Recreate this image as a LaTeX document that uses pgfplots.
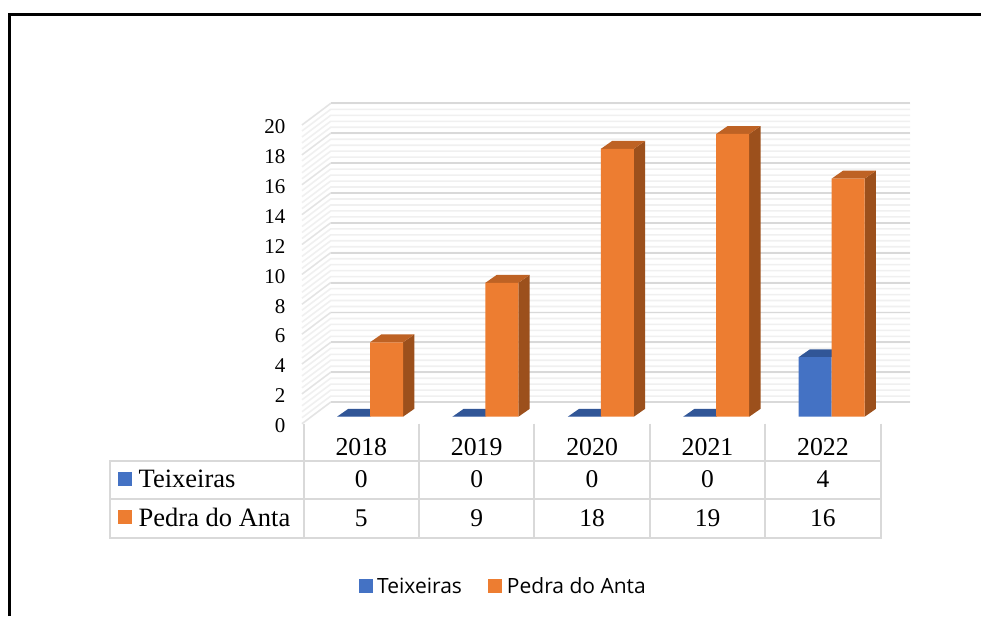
\documentclass[border=0pt]{standalone}
\usepackage{pgfplots}
\pgfplotsset{compat=1.18}
\usepackage{fontspec}
\setmainfont{Liberation Serif}
\newfontfamily\legendfont{Open Sans}

\definecolor{serA}{HTML}{4472C4}
\definecolor{serB}{HTML}{ED7D31}
\definecolor{serAtop}{HTML}{315697}
\definecolor{serBtop}{HTML}{BE6224}
\definecolor{serBside}{HTML}{9C501C}
\definecolor{gridmaj}{HTML}{D9D9D9}
\definecolor{gridmin}{HTML}{F0F0F0}

% bar geometry in data units: width, depth in x, depth in y
\def\bw{0.286}
\def\bd{0.098}
\def\bh{0.53}

% top face, #1 category, #2 value, #3 colour, #4 left edge
\newcommand{\topface}[4]{%
  \pgfmathsetmacro\xa{#1+#4}\pgfmathsetmacro\xb{\xa+\bw}%
  \pgfmathsetmacro\xc{\xb+\bd}\pgfmathsetmacro\xd{\xa+\bd}%
  \pgfmathsetmacro\yb{#2+\bh}%
  \edef\doit{\noexpand\addplot[forget plot,fill=#3,draw=none] coordinates {(\xa,#2)(\xb,#2)(\xc,\yb)(\xd,\yb)} --cycle;}\doit}
% right side face of the orange bars
\newcommand{\sideface}[2]{%
  \pgfmathsetmacro\xa{#1+\bw}\pgfmathsetmacro\xb{\xa+\bd}%
  \pgfmathsetmacro\yb{#2+\bh}%
  \edef\doit{\noexpand\addplot[forget plot,fill=serBside,draw=none] coordinates {(\xa,0)(\xb,\bh)(\xb,\yb)(\xa,#2)} --cycle;}\doit}

\pgfplotstableread{
pos teixeiras pedra
0 0 5
1 0 9
2 0 18
3 0 19
4 4 16
}\chartdata

\begin{document}
\begin{tikzpicture}
\path[use as bounding box,fill=white] (0pt,0pt) rectangle (981pt,616pt);

\begin{scope}[x=1pt,y=-1pt,yshift=616pt]
% frame
\draw[black,line width=2.4] (9.5,616) -- (9.5,14.5) -- (981,14.5);
% walls
\foreach \k in {0,...,50} {
  \pgfmathsetmacro\yy{423.7-\k*5.974}
  \draw[gridmin,line width=1.6] (302,\yy) -- (330.7,\yy-21.6) -- (910,\yy-21.6);
}
\foreach \k in {0,...,10} {
  \pgfmathsetmacro\yy{423.7-\k*29.87}
  \draw[gridmin!50!gridmaj,line width=1.3] (302,\yy) -- (330.7,\yy-21.6);
  \draw[gridmaj,line width=1.8] (330.7,\yy-21.6) -- (910,\yy-21.6);
}
% data table
\foreach \yy in {461,499.3,537.7} \draw[gridmaj,line width=2] (109,\yy) -- (881.6,\yy);
\draw[gridmaj,line width=2] (110,461) -- (110,537.7);
\foreach \xx in {303.6,419,534.4,649.8,765.2,880.6} \draw[gridmaj,line width=2] (\xx,423.5) -- (\xx,537.7);
\fill[serA] (118.3,471.7) rectangle (132.2,485.7);
\fill[serB] (118.3,510.2) rectangle (132.2,524.4);
\tikzset{cell/.style={anchor=base,inner sep=0pt,font=\fontsize{25.5}{28}\selectfont}}
\node[cell,anchor=base west,font=\fontsize{26.5}{28}\selectfont] at (138.5,487) {Teixeiras};
\node[cell,anchor=base west,font=\fontsize{26.5}{28}\selectfont] at (138.5,526) {Pedra do Anta};
\foreach \xx/\a/\b in {361.3/0/5,476.7/0/9,592.1/0/18,707.5/0/19,822.9/4/16} {
  \node[cell] at (\xx,487) {\a};
  \node[cell] at (\xx,526) {\b};
}
\end{scope}

% value axis: lies on the front edge of the side wall
\begin{axis}[
    at={(302pt,192.3pt)}, anchor=south west,
    scale only axis, width=608pt, height=298.7pt,
    xmin=0, xmax=1, ymin=0, ymax=20,
    xtick=\empty,
    ytick pos=left,
    axis line style={draw=none},
    major tick style={draw=none},
    ytick={0,2,4,6,8,10,12,14,16,18,20},
    yticklabels={0,2,4,6,8,10,12,14,16,18,20},
    yticklabel style={
        font=\fontsize{21}{24}\selectfont, inner sep=0pt,
        anchor=east, xshift=-16.5pt, yshift=-2pt},
]
\addplot[draw=none] coordinates {(0,0)(1,20)};
\end{axis}

% bars
\begin{axis}[
    at={(302pt,199.3pt)}, anchor=south west,
    scale only axis, width=608pt, height=297.6pt,
    xmin=-0.5893, xmax=4.679, ymin=0, ymax=20,
    clip=false,
    axis line style={draw=none},
    major tick style={draw=none},
    ytick=\empty,
    xtick pos=lower,
    xtick={0,1,2,3,4},
    xticklabels={2018,2019,2020,2021,2022},
    xticklabel style={
        font=\fontsize{25.8}{28}\selectfont, inner sep=0pt,
        anchor=base, xshift=-8.7pt, yshift=-38.3pt},
    legend columns=2,
    legend cell align=left,
    legend style={
        at={(200.5pt,-169.5pt)}, anchor=center, draw=none, fill=none,
        font=\legendfont\fontsize{21}{24}\selectfont,
        inner sep=0pt, outer sep=0pt,
        /tikz/column 1/.style={column sep=4pt},
        /tikz/column 2/.style={column sep=26pt},
        /tikz/column 3/.style={column sep=5pt},
        nodes={inner sep=0pt}},
    legend image code/.code={\fill[#1] (0pt,-7pt) rectangle (14pt,7pt);},
]
\topface{0}{0}{serAtop}{-\bw}
\topface{1}{0}{serAtop}{-\bw}
\topface{2}{0}{serAtop}{-\bw}
\topface{3}{0}{serAtop}{-\bw}
\topface{4}{4}{serAtop}{-\bw}

\sideface{0}{5}\topface{0}{5}{serBtop}{0}
\sideface{1}{9}\topface{1}{9}{serBtop}{0}
\sideface{2}{18}\topface{2}{18}{serBtop}{0}
\sideface{3}{19}\topface{3}{19}{serBtop}{0}
\sideface{4}{16}\topface{4}{16}{serBtop}{0}

\addplot[ybar,bar width=33pt,bar shift=-16.5pt,fill=serA,draw=none] table[x=pos,y=teixeiras] {\chartdata};
\addplot[ybar,bar width=33pt,bar shift=16.5pt,fill=serB,draw=none] table[x=pos,y=pedra] {\chartdata};
\legend{Teixeiras,Pedra do Anta}
\end{axis}
\end{tikzpicture}
\end{document}
